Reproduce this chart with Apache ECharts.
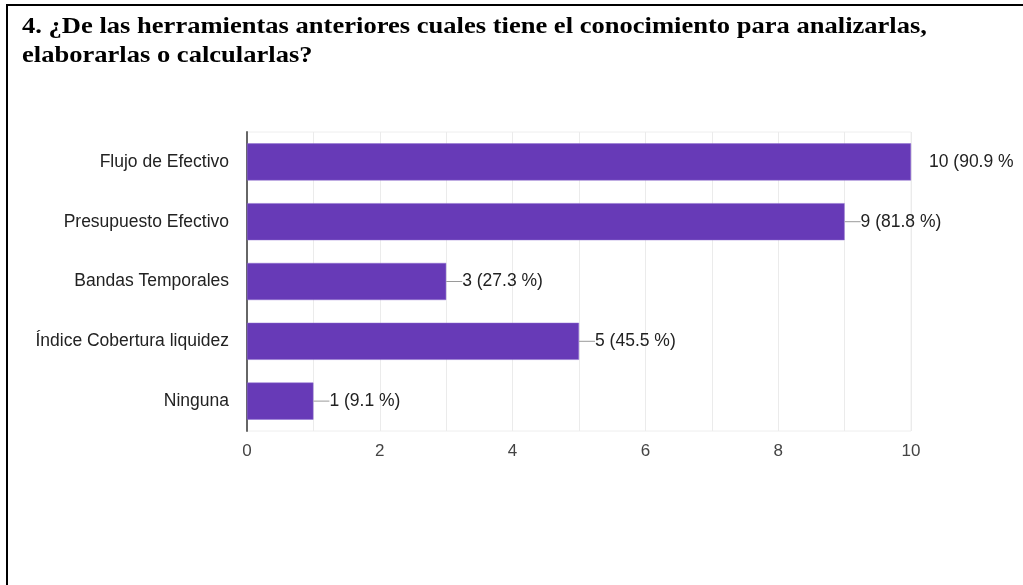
<!DOCTYPE html>
<html>
<head>
<meta charset="utf-8">
<style>
  html, body { margin: 0; padding: 0; background: #fff; }
  #chart { width: 1023px; height: 585px; }
</style>
<script src="https://cdn.jsdelivr.net/npm/echarts@6/dist/echarts.min.js"></script>
</head>
<body>
<div id="chart"></div>
<script>
// Survey answers: which tools respondents know how to analyse / build / compute
const titleLines = [
  '4. ¿De las herramientas anteriores cuales tiene el conocimiento para analizarlas,',
  'elaborarlas o calcularlas?'
];
const categories = [
  'Flujo de Efectivo',
  'Presupuesto Efectivo',
  'Bandas Temporales',
  'Índice Cobertura liquidez',
  'Ninguna'
];
const counts = [10, 9, 3, 5, 1];
const valueLabels = ['10 (90.9 %', '9 (81.8 %)', '3 (27.3 %)', '5 (45.5 %)', '1 (9.1 %)'];
const xTicks = [0, 2, 4, 6, 8, 10];

const chart = echarts.init(document.getElementById('chart'), null, { renderer: 'canvas' });

const purple = '#673ab7';
const labelFont = 'Liberation Sans, Arial, sans-serif';
const titleFont = 'bold 22.5px "Liberation Serif", "Times New Roman", serif';

// Question heading, slightly widened serif text
const titleGraphics = titleLines.map((line, i) => ({
  type: 'text',
  x: 22,
  y: 27.5 + i * 29,
  scaleX: 1.18,
  style: {
    text: line,
    font: titleFont,
    fill: '#000',
    textAlign: 'left',
    textVerticalAlign: 'middle'
  }
}));

chart.setOption({
  animation: false,
  backgroundColor: '#ffffff',
  graphic: [
    { type: 'line', shape: { x1: 7, y1: 5, x2: 7, y2: 585 }, style: { stroke: '#000', lineWidth: 2 } },
    { type: 'line', shape: { x1: 6, y1: 5, x2: 1023, y2: 5 }, style: { stroke: '#000', lineWidth: 2 } }
  ].concat(titleGraphics),
  grid: {
    left: 247,
    right: 112,
    top: 132,
    bottom: 154,
    show: true,
    borderColor: '#eeeeee',
    borderWidth: 1
  },
  xAxis: {
    type: 'value',
    min: 0,
    max: 10,
    interval: 1,
    axisLine: { show: false },
    axisTick: { show: false },
    splitLine: { show: true, lineStyle: { color: '#ebebeb', width: 1 } },
    axisLabel: {
      margin: 12,
      color: '#444',
      fontFamily: 'Liberation Sans Narrow, Arial Narrow, ' + labelFont,
      fontSize: 17,
      formatter: v => (xTicks.indexOf(v) >= 0 ? String(v) : '')
    }
  },
  yAxis: {
    type: 'category',
    data: categories,
    inverse: true,
    axisLine: { show: true, lineStyle: { color: '#666', width: 2 } },
    axisTick: { show: false },
    splitLine: { show: false },
    axisLabel: {
      margin: 18,
      color: '#222',
      fontFamily: labelFont,
      fontSize: 17.5
    }
  },
  series: [{
    type: 'bar',
    data: counts,
    barCategoryGap: '38%',
    itemStyle: { color: purple, borderColor: '#8f6fd0', borderWidth: 0.5 },
    label: {
      show: true,
      position: 'right',
      distance: 0,
      formatter: p => (p.value >= 10
        ? '{gap|}{t|' + valueLabels[p.dataIndex] + '}'
        : '{lead|}{t|' + valueLabels[p.dataIndex] + '}'),
      rich: {
        lead: { width: 16, height: 1, backgroundColor: '#9a9a9a' },
        gap: { width: 18, height: 1 },
        t: { color: '#222', fontFamily: labelFont, fontSize: 17.5 }
      }
    }
  }]
});
</script>
</body>
</html>
